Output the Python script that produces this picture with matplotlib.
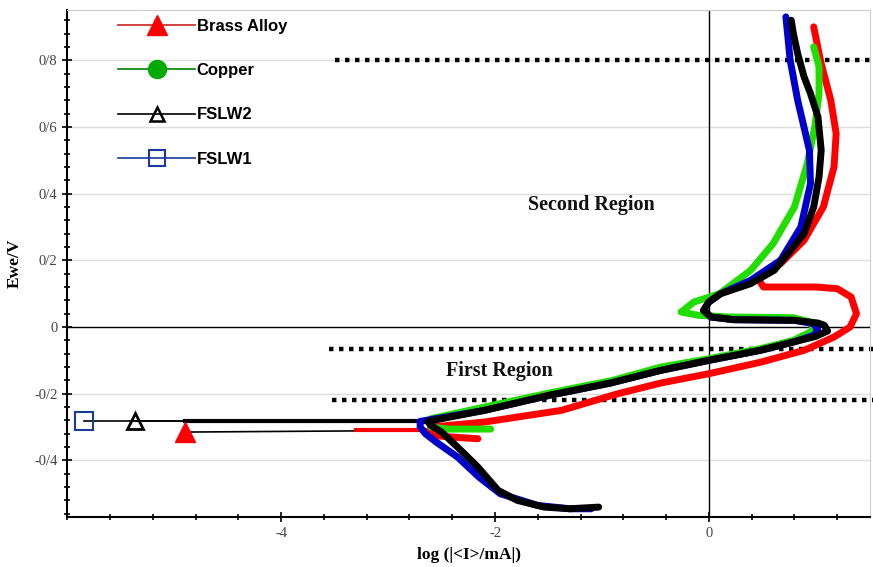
import numpy as np
import matplotlib.pyplot as plt
from matplotlib.lines import Line2D
from matplotlib.ticker import MultipleLocator, FixedLocator

# Brass Alloy (red)
brass_logi = [-2.16, -2.4, -2.6, -2.6, -2.1, -1.38, -0.85, -0.45, 0.0, 0.49, 0.89, 1.17, 1.32, 1.38, 1.33,
              1.2, 1.0, 0.51, 0.45, 0.49, 0.67, 0.89, 1.07, 1.17, 1.19, 1.14, 1.05, 0.98]
brass_e = [-0.335, -0.33, -0.325, -0.30, -0.285, -0.25, -0.2, -0.168, -0.14, -0.105, -0.07, -0.03, 0.0, 0.04, 0.09,
           0.115, 0.12, 0.12, 0.15, 0.155, 0.19, 0.26, 0.36, 0.48, 0.58, 0.68, 0.79, 0.90]

# Copper (green)
copper_logi = [-2.04, -2.44, -2.6, -2.6, -2.1, -1.45, -0.9, -0.45, 0.0, 0.48, 0.79, 0.98, 0.95, 0.79, 0.2,
               -0.1, -0.26, -0.14, 0.1, 0.39, 0.6, 0.8, 0.92, 0.99, 1.03, 1.03, 0.98]
copper_e = [-0.306, -0.306, -0.30, -0.275, -0.24, -0.195, -0.16, -0.12, -0.095, -0.065, -0.04, -0.01, 0.015,
            0.028, 0.03, 0.035, 0.045, 0.075, 0.10, 0.17, 0.25, 0.36, 0.49, 0.60, 0.70, 0.78, 0.84]

# FSLW1 (blue)
fslw1_logi = [-1.1, -1.3, -1.6, -1.95, -2.15, -2.35, -2.55, -2.65, -2.7, -2.7, -2.1, -1.48, -0.92, -0.45, 0.0,
              0.48, 0.79, 0.98, 1.02, 0.98, 0.8, 0.23, 0.02, -0.05, 0.0, 0.11, 0.39, 0.67, 0.86, 0.95, 0.94,
              0.83, 0.76, 0.72]
fslw1_e = [-0.545, -0.545, -0.535, -0.50, -0.45, -0.39, -0.345, -0.32, -0.30, -0.283, -0.25, -0.204, -0.168,
           -0.13, -0.1, -0.07, -0.045, -0.025, -0.01, 0.01, 0.02, 0.022, 0.03, 0.05, 0.075, 0.10, 0.14, 0.20,
           0.30, 0.43, 0.53, 0.68, 0.80, 0.93]

# FSLW2 (black)
fslw2_logi = [-1.03, -1.3, -1.54, -1.79, -1.97, -2.16, -2.35, -2.5, -2.6, -2.63, -2.1, -1.48, -0.92, -0.45, 0.0,
              0.48, 0.79, 1.0, 1.11, 1.08, 1.02, 0.8, 0.23, 0.02, -0.05, 0.0, 0.11, 0.39, 0.61, 0.74, 0.89,
              0.98, 1.03, 1.05, 1.02, 0.95, 0.89, 0.83, 0.79, 0.77]
fslw2_e = [-0.54, -0.545, -0.54, -0.52, -0.49, -0.42, -0.36, -0.315, -0.295, -0.283, -0.25, -0.204, -0.168,
           -0.13, -0.1, -0.07, -0.045, -0.028, -0.012, 0.005, 0.012, 0.02, 0.022, 0.03, 0.05, 0.075, 0.10,
           0.13, 0.17, 0.22, 0.28, 0.36, 0.45, 0.53, 0.63, 0.70, 0.75, 0.82, 0.88, 0.92]

# corrosion points (minimum current)
corr_names = ['Brass Alloy', 'FSLW2', 'FSLW1']
corr_logi = [-4.9, -5.37, -5.84]
corr_e = [-0.315, -0.283, -0.283]

# region borders and labels
region_lines_e = [0.8, -0.066, -0.22]
region_lines_start = [-3.5, -3.55, -3.52]
region_texts = ['Second Region', 'First Region']
region_text_x = [-1.1, -1.96]
region_text_y = [0.366, -0.132]

ytick_vals = [-0.4, -0.2, 0, 0.2, 0.4, 0.6, 0.8]
ytick_labels = ['-0/4', '-0/2', '0', '0/2', '0/4', '0/6', '0/8']
xtick_vals = [-4, -2, 0]
xtick_labels = ['-4', '-2', '0']

fig = plt.figure(figsize=(8.73, 5.67), dpi=100)
ax = fig.add_axes([0.077, 0.088, 0.92, 0.894])

ax.set_xlim(-6.0, 1.51)
ax.set_ylim(-0.57, 0.95)

for y in ytick_vals:
    ax.axhline(y, color='#dddddd', lw=1, zorder=0)
ax.axhline(0, color='black', lw=1, zorder=1)
ax.axvline(0, color='black', lw=1, zorder=1)

lw = 5
# thin lines from corrosion points
ax.plot([corr_logi[0], -2.6], [corr_e[0], -0.31], color='black', lw=1.2, zorder=2)
ax.plot([corr_logi[1], -2.6], [corr_e[1], -0.283], color='black', lw=1.2, zorder=2)
ax.plot([corr_logi[2], -2.6], [corr_e[2], -0.283], color='black', lw=1.2, zorder=2)
ax.plot([-4.9, -2.6], [-0.283, -0.283], color='black', lw=3, zorder=2)
ax.plot([-3.3, -2.6], [-0.31, -0.31], color='red', lw=3, zorder=2)

ax.plot(brass_logi, brass_e, color='red', lw=lw, zorder=3, solid_joinstyle='round', solid_capstyle='round')
ax.plot(copper_logi, copper_e, color='#22dd00', lw=lw, zorder=3, solid_joinstyle='round', solid_capstyle='round')
ax.plot(fslw1_logi, fslw1_e, color='#0000cc', lw=lw, zorder=4, solid_joinstyle='round', solid_capstyle='round')
ax.plot(fslw2_logi, fslw2_e, color='black', lw=lw, zorder=5, solid_joinstyle='round', solid_capstyle='round')

ax.plot(corr_logi[0], corr_e[0], marker='^', ms=14, color='red', zorder=6)
ax.plot(corr_logi[1], corr_e[1], marker='^', ms=11, mfc='none', mec='black', mew=2, zorder=6)
ax.plot(corr_logi[2], corr_e[2], marker='s', ms=13, mfc='none', mec='#1a3a9a', mew=1.5, zorder=6)

for e, x0 in zip(region_lines_e, region_lines_start):
    ax.plot([x0, 1.55], [e, e], color='black', lw=3.2, dashes=(1, 1.25),
            dash_capstyle='butt', clip_on=False, zorder=2)

for t, x, y in zip(region_texts, region_text_x, region_text_y):
    ax.text(x, y, t, ha='center', va='center', fontsize=14.5, fontweight='bold',
            family='Liberation Serif', color='#111111')

ax.yaxis.set_major_locator(FixedLocator(ytick_vals))
ax.set_yticklabels(ytick_labels)
ax.yaxis.set_minor_locator(MultipleLocator(0.04))
ax.xaxis.set_major_locator(FixedLocator(xtick_vals))
ax.set_xticklabels(xtick_labels)
ax.xaxis.set_minor_locator(MultipleLocator(0.4))
ax.tick_params(which='both', direction='inout', width=1.2)
ax.tick_params(which='major', length=7, labelsize=10.5, labelcolor='#444444')
ax.tick_params(which='minor', length=4)
for lab in ax.get_xticklabels() + ax.get_yticklabels():
    lab.set_family('Liberation Serif')

for s in ['top', 'right']:
    ax.spines[s].set_color('#cccccc')
for s in ['left', 'bottom']:
    ax.spines[s].set_linewidth(1.5)

ax.set_ylabel('Ewe/V', family='Liberation Serif', fontweight='bold', fontsize=12.5, labelpad=8)
ax.set_xlabel('log (|<I>/mA|)', family='Liberation Serif', fontweight='bold', fontsize=12.5, labelpad=5)

handles = [
    Line2D([], [], color='#cc2222', lw=1.2, marker='^', ms=14, mfc='red', mec='red'),
    Line2D([], [], color='green', lw=1.2, marker='o', ms=13, mfc='#00aa00', mec='#00aa00'),
    Line2D([], [], color='black', lw=1.2, marker='^', ms=10, mfc='none', mec='black', mew=1.8),
    Line2D([], [], color='#1a3a9a', lw=1.2, marker='s', ms=12, mfc='none', mec='#1a3a9a', mew=1.5),
]
leg = ax.legend(handles, ['Brass Alloy', 'Copper', 'FSLW2', 'FSLW1'], loc='upper left',
                bbox_to_anchor=(0.045, 1.012), frameon=False, handlelength=4.6, handletextpad=0.1,
                labelspacing=1.75, prop={'family': 'Liberation Sans', 'weight': 'bold', 'size': 12})

fig.savefig('out.png', dpi=100)
